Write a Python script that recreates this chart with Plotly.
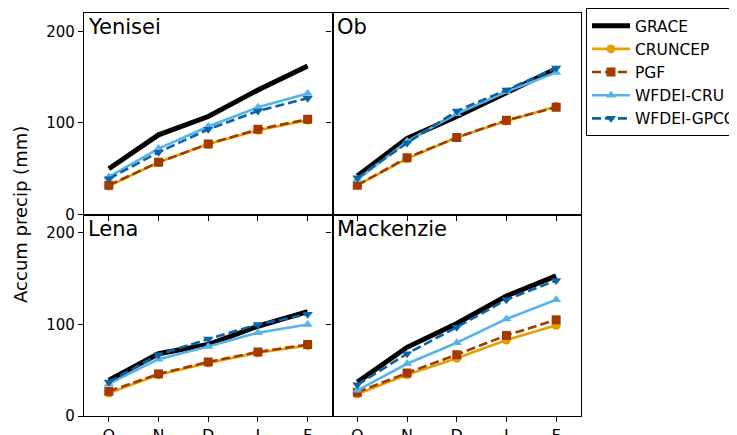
import plotly.graph_objects as go
from plotly.subplots import make_subplots

months = ["O", "N", "D", "J", "F"]
basins = ["Yenisei", "Ob", "Lena", "Mackenzie"]
series_names = ["GRACE", "CRUNCEP", "PGF", "WFDEI-CRU", "WFDEI-GPCC"]

yenisei_grace = [50, 87, 107, 136, 162]
yenisei_cruncep = [31, 57, 77, 92, 103]
yenisei_pgf = [32, 57, 77, 93, 104]
yenisei_wfdei_cru = [41, 72, 96, 117, 132]
yenisei_wfdei_gpcc = [39, 68, 93, 113, 127]

ob_grace = [42, 83, 107, 133, 159]
ob_cruncep = [32, 61, 84, 102, 118]
ob_pgf = [32, 62, 84, 103, 117]
ob_wfdei_cru = [38, 80, 110, 134, 155]
ob_wfdei_gpcc = [40, 78, 113, 136, 160]

lena_grace = [39, 68, 78, 98, 114]
lena_cruncep = [25, 45, 58, 69, 77]
lena_pgf = [27, 46, 59, 70, 78]
lena_wfdei_cru = [35, 62, 76, 91, 100]
lena_wfdei_gpcc = [37, 67, 84, 100, 111]

mackenzie_grace = [37, 75, 101, 131, 153]
mackenzie_cruncep = [24, 45, 63, 83, 99]
mackenzie_pgf = [26, 47, 67, 88, 105]
mackenzie_wfdei_cru = [28, 57, 80, 106, 127]
mackenzie_wfdei_gpcc = [34, 68, 97, 127, 148]

data = {
    "Yenisei": [yenisei_grace, yenisei_cruncep, yenisei_pgf, yenisei_wfdei_cru, yenisei_wfdei_gpcc],
    "Ob": [ob_grace, ob_cruncep, ob_pgf, ob_wfdei_cru, ob_wfdei_gpcc],
    "Lena": [lena_grace, lena_cruncep, lena_pgf, lena_wfdei_cru, lena_wfdei_gpcc],
    "Mackenzie": [mackenzie_grace, mackenzie_cruncep, mackenzie_pgf, mackenzie_wfdei_cru, mackenzie_wfdei_gpcc],
}

styles = {
    "GRACE": dict(color="black", width=5, dash="solid", symbol=None),
    "CRUNCEP": dict(color="#E69F00", width=2.6, dash="solid", symbol="circle"),
    "PGF": dict(color="#A33A00", width=2.6, dash="9px,4px", symbol="square"),
    "WFDEI-CRU": dict(color="#56B4E9", width=2.6, dash="solid", symbol="triangle-up"),
    "WFDEI-GPCC": dict(color="#0A64A4", width=2.6, dash="9px,4px", symbol="triangle-down"),
}

fig = make_subplots(rows=2, cols=2, shared_xaxes=True, shared_yaxes=True,
                    horizontal_spacing=0, vertical_spacing=0)

positions = [(1, 1), (1, 2), (2, 1), (2, 2)]
for bi, basin in enumerate(basins):
    r, c = positions[bi]
    for si, name in enumerate(series_names):
        st = styles[name]
        mode = "lines" if st["symbol"] is None else "lines+markers"
        kw = dict(x=months, y=data[basin][si], mode=mode, name=name,
                  legendgroup=name, showlegend=(bi == 0),
                  line=dict(color=st["color"], width=st["width"], dash=st["dash"]))
        if st["symbol"] is not None:
            kw["marker"] = dict(symbol=st["symbol"], size=9, color=st["color"])
        fig.add_trace(go.Scatter(**kw), row=r, col=c)
    fig.add_annotation(text=basin, xref="x domain" if bi == 0 else f"x{bi+1} domain",
                       yref="y domain" if bi == 0 else f"y{bi+1} domain",
                       x=0.01, y=1.0, xanchor="left", yanchor="top", showarrow=False,
                       font=dict(size=21, color="black"))

fig.update_xaxes(range=[-0.5, 4.5], showline=True, linecolor="black", linewidth=1.2,
                 mirror=True, ticks="outside", ticklen=5, tickcolor="black",
                 showgrid=False, zeroline=False, tickfont=dict(size=16, color="black"),
                 automargin=False)
fig.update_yaxes(range=[0, 220], tickvals=[0, 100, 200], showline=True, linecolor="black",
                 linewidth=1.2, mirror=True, ticks="outside", ticklen=5, tickcolor="black",
                 showgrid=False, zeroline=False, tickfont=dict(size=15, color="black"),
                 automargin=False)

fig.add_annotation(text="Accum precip (mm)", xref="paper", yref="paper",
                   x=-0.128, y=0.5, xanchor="center", yanchor="middle",
                   textangle=-90, showarrow=False, font=dict(size=18, color="black"))

fig.update_layout(
    width=737, height=435,
    margin=dict(l=76, r=164, t=5, b=27, autoexpand=False),
    paper_bgcolor="white", plot_bgcolor="white",
    font=dict(family="DejaVu Sans", color="black"),
    legend=dict(x=1.01, y=1.012, xanchor="left", yanchor="top",
                bordercolor="black", borderwidth=1, bgcolor="white",
                font=dict(size=15.5), tracegroupgap=0, itemwidth=38),
)

fig.write_html("out.html")
